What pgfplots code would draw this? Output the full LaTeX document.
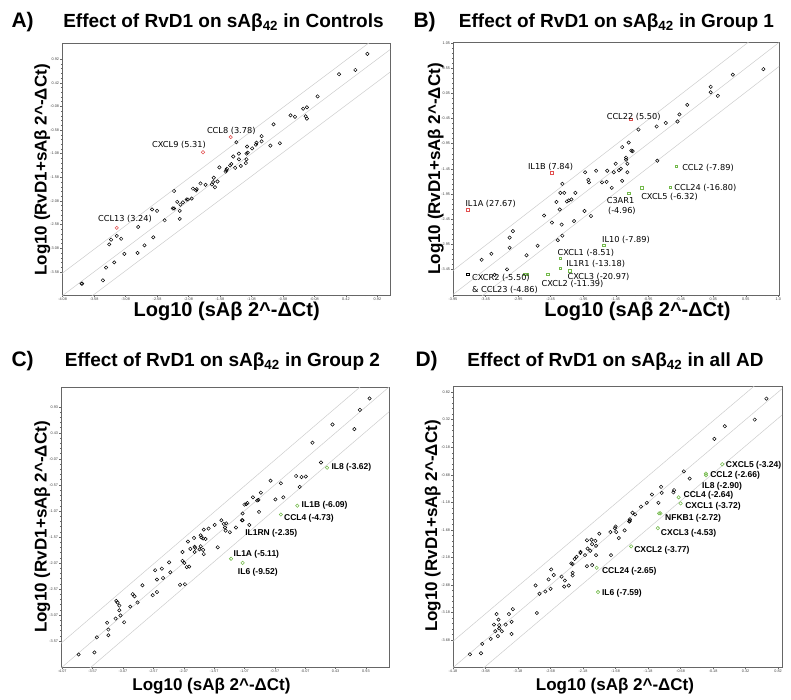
\documentclass[border=0pt]{standalone}
\usepackage{fontspec}
\setmainfont{Liberation Sans}
\newfontfamily\dejavu{DejaVu Sans}
\usepackage{pgfplots}
\pgfplotsset{compat=1.18}
\definecolor{redm}{RGB}{225,80,80}
\definecolor{greenm}{RGB}{115,185,75}
\definecolor{diagc}{RGB}{205,205,205}
\pgfplotsset{
 panel/.style={scale only axis, anchor=north west, clip mode=individual,
  axis line style={black!60,line width=0.4pt},
  tick align=outside, xtick pos=bottom, ytick pos=left,
  major tick length=2pt, minor tick length=1.1pt, minor tick num=4,
  tick style={black!60,line width=0.3pt},
  tick label style={font=\fontsize{3.8}{4}\selectfont, text=black!75, inner sep=0.8pt},
  /pgf/number format/fixed, /pgf/number format/fixed zerofill,
  /pgf/number format/precision=2, /pgf/number format/assume math mode=true},
 blk/.style={only marks, mark=o, mark size=1.7pt, mark options={black, line width=0.5pt}},
 redo/.style={only marks, mark=o, mark size=1.7pt, mark options={redm, line width=0.55pt}},
 grno/.style={only marks, mark=o, mark size=1.7pt, mark options={greenm, line width=0.55pt}},
 reds/.style={only marks, mark=square, mark size=1.3pt, mark options={redm, line width=0.55pt}},
 grns/.style={only marks, mark=square, mark size=1.3pt, mark options={greenm, line width=0.55pt}},
 blks/.style={only marks, mark=square, mark size=1.3pt, mark options={black, line width=0.55pt}},
 diag/.style={diagc, line width=0.5pt, forget plot},
}
\newcommand{\diaglines}{%
 \addplot[diag] coordinates {(-6,-6) (3,3)};
 \addplot[diag] coordinates {(-6,-5.523) (3,3.477)};
 \addplot[diag] coordinates {(-6,-6.477) (3,2.523)};
}
\newcommand{\lblA}{\dejavu\fontsize{8.2}{9}\selectfont}
\newcommand{\lblC}{\bfseries\fontsize{8.5}{9}\selectfont}
\newcommand{\ttl}{\bfseries\fontsize{19}{22}\selectfont}
\newcommand{\pl}{\bfseries\fontsize{21}{24}\selectfont}
\begin{document}
\begin{tikzpicture}
\useasboundingbox (0,0) rectangle (791pt,-699pt);
% ---------- titles and labels
\node[font=\pl, anchor=base west] at (8pt,-27pt) {A)};
\node[font=\ttl, anchor=base] at (223.5pt,-27pt) {Effect of RvD1 on sAβ\textsubscript{42} in Controls};
\node[font=\pl, anchor=base west] at (410pt,-27pt) {B)};
\node[font=\ttl, anchor=base] at (616.5pt,-27pt) {Effect of RvD1 on sAβ\textsubscript{42} in Group 1};
\node[font=\pl, anchor=base west] at (8pt,-366pt) {C)};
\node[font=\ttl, anchor=base] at (222.5pt,-366pt) {Effect of RvD1 on sAβ\textsubscript{42} in Group 2};
\node[font=\pl, anchor=base west] at (412pt,-366pt) {D)};
\node[font=\ttl, anchor=base] at (615.5pt,-366pt) {Effect of RvD1 on sAβ\textsubscript{42} in all AD};
\node[font=\bfseries\fontsize{20}{22}\selectfont, anchor=base, inner sep=0pt] at (226.7pt,-316pt) {Log10 (sAβ 2\textasciicircum-ΔCt)};
\node[font=\bfseries\fontsize{20}{22}\selectfont, anchor=base, inner sep=0pt] at (637.5pt,-316pt) {Log10 (sAβ 2\textasciicircum-ΔCt)};
\node[font=\bfseries\fontsize{17}{20}\selectfont, anchor=base, inner sep=0pt] at (211.5pt,-690pt) {Log10 (sAβ 2\textasciicircum-ΔCt)};
\node[font=\bfseries\fontsize{17}{20}\selectfont, anchor=base, inner sep=0pt] at (615pt,-690pt) {Log10 (sAβ 2\textasciicircum-ΔCt)};
\node[font=\bfseries\fontsize{17}{20}\selectfont, anchor=base, rotate=90] at (46.5pt,-170pt) {Log10 (RvD1+sAβ 2\textasciicircum-ΔCt)};
\node[font=\bfseries\fontsize{17}{20}\selectfont, anchor=base, rotate=90] at (440pt,-169pt) {Log10 (RvD1+sAβ 2\textasciicircum-ΔCt)};
\node[font=\bfseries\fontsize{17}{20}\selectfont, anchor=base, rotate=90] at (46.5pt,-527pt) {Log10 (RvD1+sAβ 2\textasciicircum-ΔCt)};
\node[font=\bfseries\fontsize{17}{20}\selectfont, anchor=base, rotate=90] at (437pt,-526pt) {Log10 (RvD1+sAβ 2\textasciicircum-ΔCt)};
% ---------- Panel A
\begin{axis}[panel, at={(62pt,-43pt)}, width=328pt, height=252pt,
 xmin=-4.09, xmax=1.12, ymin=-4.07, ymax=1.26,
 xtick={-4.08,-3.58,-3.08,-2.58,-2.08,-1.58,-1.08,-0.58,-0.08,0.42,0.92},
 ytick={-3.58,-3.08,-2.58,-2.08,-1.58,-1.08,-0.58,-0.08,0.42,0.92}]
\diaglines
\addplot[blk] coordinates {
(0.76,1.03) (0.57,0.69) (0.31,0.60) (-0.03,0.13) (-0.20,-0.10) (-0.26,-0.13)
(-0.46,-0.27) (-0.39,-0.30) (-0.22,-0.29) (-0.20,-0.34) (-0.73,-0.46)
(-1.32,-0.84) (-0.92,-0.71) (-0.92,-0.82) (-1.00,-0.85) (-1.01,-0.89)
(-1.07,-0.97) (-1.15,-0.93) (-1.16,-1.08) (-1.14,-1.06) (-1.16,-1.20)
(-1.17,-1.28) (-1.28,-1.08) (-1.28,-1.20) (-1.37,-1.14) (-1.25,-1.34)
(-1.34,-1.38) (-1.40,-1.30) (-1.42,-1.33) (-1.47,-1.40) (-1.48,-1.43)
(-1.49,-1.46) (-1.59,-1.37) (-0.78,-0.91) (-0.63,-0.86) (-1.68,-1.59)
(-1.69,-1.68) (-1.71,-1.73) (-1.66,-1.79) (-1.62,-1.67) (-1.81,-1.74)
(-1.89,-1.71) (-1.95,-1.83) (-2.01,-1.82) (-1.96,-1.86) (-2.31,-1.87)
(-2.09,-2.05) (-2.11,-2.05) (-2.03,-2.03) (-2.26,-2.10) (-2.17,-2.11)
(-2.21,-2.16) (-2.31,-2.24) (-2.33,-2.24) (-2.22,-2.29) (-2.66,-2.26)
(-2.58,-2.29) (-2.46,-2.49) (-2.22,-2.46) (-2.88,-2.63) (-2.64,-2.85)
(-3.22,-2.82) (-3.15,-2.88) (-3.31,-2.90) (-3.34,-3.00) (-2.78,-3.02)
(-2.89,-3.18) (-3.10,-3.20) (-3.26,-3.38) (-3.39,-3.49) (-3.44,-3.76)
(-3.78,-3.83) (-3.77,-3.83)};
\addplot[redo] coordinates {(-1.41,-0.73) (-1.85,-1.05) (-3.22,-2.65)};
\node[font=\lblA, anchor=west, inner sep=0pt] at (axis cs:-1.79,-0.59) {CCL8 (3.78)};
\node[font=\lblA, anchor=west, inner sep=0pt] at (axis cs:-2.66,-0.90) {CXCL9 (5.31)};
\node[font=\lblA, anchor=west, inner sep=0pt] at (axis cs:-3.52,-2.47) {CCL13 (3.24)};
\end{axis}
% ---------- Panel B
\begin{axis}[panel, at={(453pt,-42pt)}, width=326pt, height=253pt,
 xmin=-3.95, xmax=1.06, ymin=-3.96, ymax=1.07,
 xtick={-3.95,-3.45,-2.95,-2.45,-1.95,-1.45,-0.95,-0.45,0.05,0.55,1.05},
 xticklabels={-3.95,-3.45,-2.95,-2.45,-1.95,-1.45,-0.95,-0.45,0.05,0.55,1.0},
 ytick={-3.45,-2.95,-2.45,-1.95,-1.45,-0.95,-0.45,0.05,0.55,1.05}]
\diaglines
\addplot[blk] coordinates {
(0.82,0.53) (0.35,0.42) (0.01,0.18) (0.01,0.07) (0.12,0.00) (-0.35,-0.18)
(-0.47,-0.37) (-0.50,-0.51) (-0.68,-0.54) (-0.82,-0.61) (-1.10,-0.67)
(-1.25,-0.93) (-1.35,-1.02) (-1.21,-1.09) (-1.19,-1.10) (-1.29,-1.23)
(-1.29,-1.27) (-1.27,-1.35) (-1.45,-1.35) (-0.81,-1.29) (-1.37,-1.45)
(-1.40,-1.48) (-1.48,-1.52) (-1.58,-1.49) (-1.27,-1.52) (-1.75,-1.49)
(-1.92,-1.52) (-1.87,-1.67) (-1.86,-1.72) (-1.66,-1.72) (-1.59,-1.71)
(-1.35,-1.69) (-1.51,-1.83) (-2.27,-1.75) (-2.30,-1.93) (-2.24,-1.93)
(-2.07,-1.93) (-2.13,-2.06) (-2.17,-2.08) (-2.20,-2.10) (-2.36,-2.11)
(-2.31,-2.26) (-1.93,-2.29) (-1.83,-2.39) (-2.55,-2.38) (-2.43,-2.52)
(-2.28,-2.56) (-2.09,-2.49) (-3.03,-2.69) (-3.08,-2.82) (-2.27,-2.78)
(-2.34,-2.87) (-3.08,-3.02) (-2.65,-2.98) (-3.36,-3.14) (-3.51,-3.26)
(-2.82,-3.17) (-3.12,-3.45) (-3.31,-3.56)};
\addplot[blks] coordinates {(-3.72,-3.55)};
\addplot[reds] coordinates {(-1.22,-0.47) (-2.43,-1.53) (-3.72,-2.27)};
\addplot[grns] coordinates {(-0.52,-1.40) (-1.05,-1.83) (-0.61,-1.82) (-1.25,-1.94)
(-1.63,-2.97) (-2.30,-3.23) (-2.30,-3.43) (-2.16,-3.48) (-2.49,-3.55) (-2.85,-3.55) (-2.81,-3.55)};
\node[font=\lblA, anchor=west, inner sep=0pt] at (axis cs:-1.59,-0.42) {CCL22 (5.50)};
\node[font=\lblA, anchor=west, inner sep=0pt] at (axis cs:-2.80,-1.41) {IL1B (7.84)};
\node[font=\lblA, anchor=west, inner sep=0pt] at (axis cs:-0.43,-1.43) {CCL2 (-7.89)};
\node[font=\lblA, anchor=west, inner sep=0pt] at (axis cs:-0.55,-1.84) {CCL24 (-16.80)};
\node[font=\lblA, anchor=west, inner sep=0pt] at (axis cs:-1.06,-2.01) {CXCL5 (-6.32)};
\node[font=\lblA, anchor=west, inner sep=0pt] at (axis cs:-1.59,-2.08) {C3AR1};
\node[font=\lblA, anchor=west, inner sep=0pt] at (axis cs:-1.57,-2.29) {(-4.96)};
\node[font=\lblA, anchor=west, inner sep=0pt] at (axis cs:-3.76,-2.14) {IL1A (27.67)};
\node[font=\lblA, anchor=west, inner sep=0pt] at (axis cs:-1.66,-2.86) {IL10 (-7.89)};
\node[font=\lblA, anchor=west, inner sep=0pt] at (axis cs:-2.345,-3.12) {CXCL1 (-8.51)};
\node[font=\lblA, anchor=west, inner sep=0pt] at (axis cs:-2.21,-3.35) {IL1R1 (-13.18)};
\node[font=\lblA, anchor=west, inner sep=0pt] at (axis cs:-2.19,-3.60) {CXCL3 (-20.97)};
\node[font=\lblA, anchor=west, inner sep=0pt] at (axis cs:-3.66,-3.63) {CXCR2 (-5.50)};
\node[font=\lblA, anchor=west, inner sep=0pt] at (axis cs:-3.66,-3.85) {\& CCL23 (-4.86)};
\node[font=\lblA, anchor=west, inner sep=0pt] at (axis cs:-2.59,-3.74) {CXCL2 (-11.39)};
\end{axis}
% ---------- Panel C
\begin{axis}[panel, at={(61pt,-387pt)}, width=328pt, height=280pt,
 xmin=-4.09, xmax=1.31, ymin=-4.07, ymax=1.31,
 xtick={-4.07,-3.57,-3.07,-2.57,-2.07,-1.57,-1.07,-0.57,-0.07,0.43,0.93},
 ytick={-3.57,-3.07,-2.57,-2.07,-1.57,-1.07,-0.57,-0.07,0.43,0.93}]
\diaglines
\addplot[blk] coordinates {
(0.99,1.09) (0.83,0.87) (0.38,0.59) (0.74,0.50) (0.05,0.24) (0.19,-0.14)
(-0.22,-0.40) (-0.13,-0.42) (-0.06,-0.41) (-0.64,-0.49) (-0.47,-0.54)
(-0.16,-0.61) (-0.80,-0.72) (-0.43,-0.81) (-0.93,-0.81) (-0.56,-0.85)
(-0.84,-0.86) (-0.86,-0.87) (-1.02,-0.92) (-1.04,-0.94) (-1.07,-0.95)
(-0.83,-1.09) (-1.10,-1.12) (-1.10,-1.25) (-1.11,-1.25) (-0.99,-1.34)
(-1.21,-1.39) (-1.45,-1.25) (-1.37,-1.31) (-1.41,-1.32) (-1.39,-1.39)
(-1.38,-1.45) (-1.31,-1.48) (-1.56,-1.34) (-1.66,-1.41) (-1.74,-1.43)
(-1.79,-1.54) (-1.71,-1.61) (-1.78,-1.58) (-1.75,-1.60) (-1.90,-1.59)
(-2.00,-1.66) (-1.51,-1.77) (-1.89,-1.76) (-1.88,-1.78) (-1.79,-1.75)
(-1.81,-1.81) (-1.75,-1.82) (-1.74,-1.90) (-1.89,-1.86) (-1.96,-1.80)
(-2.09,-1.86) (-2.09,-2.03) (-2.06,-2.07) (-2.02,-2.15) (-1.98,-2.14)
(-2.31,-2.06) (-2.43,-2.18) (-2.54,-2.21) (-2.29,-2.25) (-2.51,-2.39)
(-2.41,-2.36) (-2.75,-2.50) (-2.13,-2.49) (-2.05,-2.48) (-2.51,-2.63)
(-2.58,-2.69) (-2.91,-2.67) (-2.88,-2.71) (-2.83,-2.83) (-2.95,-2.91)
(-3.18,-2.80) (-3.16,-2.83) (-3.13,-2.89) (-3.13,-2.98) (-3.11,-3.08)
(-3.19,-3.14) (-3.05,-3.21) (-3.33,-3.22) (-3.31,-3.35) (-3.31,-3.46)
(-3.50,-3.50) (-3.54,-3.79) (-3.80,-3.83)};
\addplot[grno] coordinates {(0.29,-0.24) (-0.20,-0.97) (-0.47,-1.14) (-1.29,-1.99) (-1.10,-2.07)};
\node[font=\lblC, anchor=west, inner sep=0pt] at (axis cs:0.36,-0.24) {IL8 (-3.62)};
\node[font=\lblC, anchor=west, inner sep=0pt] at (axis cs:-0.13,-0.96) {IL1B (-6.09)};
\node[font=\lblC, anchor=west, inner sep=0pt] at (axis cs:-0.42,-1.214) {CCL4 (-4.73)};
\node[font=\lblC, anchor=west, inner sep=0pt] at (axis cs:-1.06,-1.50) {IL1RN (-2.35)};
\node[font=\lblC, anchor=west, inner sep=0pt] at (axis cs:-1.25,-1.91) {IL1A (-5.11)};
\node[font=\lblC, anchor=west, inner sep=0pt] at (axis cs:-1.18,-2.25) {IL6 (-9.52)};
\end{axis}
% ---------- Panel D
\begin{axis}[panel, at={(453pt,-386pt)}, width=329pt, height=281pt,
 xmin=-4.18, xmax=0.88, ymin=-4.17, ymax=0.93,
 xtick={-4.18,-3.68,-3.18,-2.68,-2.18,-1.68,-1.18,-0.68,-0.18,0.32,0.82},
 ytick={-3.68,-3.18,-2.68,-2.18,-1.68,-1.18,-0.68,-0.18,0.32,0.82}]
\diaglines
\addplot[blk] coordinates {
(0.64,0.70) (0.46,0.32) (0.00,0.20) (-0.16,-0.03) (-0.63,-0.62) (-0.54,-0.75)
(-0.98,-0.90) (-0.78,-0.96) (-0.79,-1.00) (-0.97,-1.01) (-1.12,-1.04)
(-1.02,-1.19) (-1.20,-1.19) (-1.29,-1.26) (-1.42,-1.37) (-1.38,-1.40)
(-1.46,-1.49) (-1.47,-1.53) (-1.46,-1.52) (-1.54,-1.69) (-1.68,-1.62)
(-1.69,-1.65) (-1.67,-1.72) (-1.76,-1.72) (-1.63,-1.83) (-1.93,-1.75)
(-2.05,-1.86) (-2.12,-1.87) (-1.99,-1.88) (-2.04,-1.94) (-1.98,-1.97)
(-2.11,-2.02) (-2.07,-2.06) (-2.22,-2.08) (-2.22,-2.10) (-2.15,-2.14)
(-1.98,-2.14) (-1.75,-2.14) (-2.28,-2.17) (-2.31,-2.21) (-2.36,-2.29)
(-2.34,-2.30) (-2.12,-2.34) (-2.04,-2.32) (-2.67,-2.40) (-2.63,-2.50)
(-2.51,-2.53) (-2.34,-2.46) (-2.34,-2.51) (-2.46,-2.60) (-2.71,-2.58)
(-2.40,-2.69) (-2.47,-2.71) (-2.68,-2.75) (-2.91,-2.69) (-2.76,-2.80)
(-2.85,-2.84) (-2.89,-3.19) (-3.26,-3.12) (-3.32,-3.21) (-3.51,-3.21)
(-3.28,-3.35) (-3.37,-3.40) (-3.48,-3.31) (-3.55,-3.40) (-3.47,-3.41)
(-3.47,-3.47) (-3.53,-3.52) (-3.43,-3.52) (-3.49,-3.61) (-3.28,-3.57)
(-3.60,-3.66) (-3.73,-3.75) (-3.75,-3.92) (-3.92,-3.94)};
\addplot[grno] coordinates {(-0.04,-0.49) (-0.29,-0.66) (-0.29,-0.69) (-0.71,-1.09)
(-0.68,-1.20) (-1.01,-1.38) (-0.99,-1.38) (-1.03,-1.65) (-1.44,-1.98) (-1.97,-2.37) (-1.95,-2.81)};
\node[font=\lblC, anchor=west, inner sep=0pt] at (axis cs:0.015,-0.51) {CXCL5 (-3.24)};
\node[font=\lblC, anchor=west, inner sep=0pt] at (axis cs:-0.226,-0.69) {CCL2 (-2.66)};
\node[font=\lblC, anchor=west, inner sep=0pt] at (axis cs:-0.35,-0.89) {IL8 (-2.90)};
\node[font=\lblC, anchor=west, inner sep=0pt] at (axis cs:-0.636,-1.06) {CCL4 (-2.64)};
\node[font=\lblC, anchor=west, inner sep=0pt] at (axis cs:-0.61,-1.26) {CXCL1 (-3.72)};
\node[font=\lblC, anchor=west, inner sep=0pt] at (axis cs:-0.92,-1.47) {NFKB1 (-2.72)};
\node[font=\lblC, anchor=west, inner sep=0pt] at (axis cs:-0.985,-1.74) {CXCL3 (-4.53)};
\node[font=\lblC, anchor=west, inner sep=0pt] at (axis cs:-1.395,-2.05) {CXCL2 (-3.77)};
\node[font=\lblC, anchor=west, inner sep=0pt] at (axis cs:-1.89,-2.43) {CCL24 (-2.65)};
\node[font=\lblC, anchor=west, inner sep=0pt] at (axis cs:-1.89,-2.84) {IL6 (-7.59)};
\end{axis}
\end{tikzpicture}
\end{document}
